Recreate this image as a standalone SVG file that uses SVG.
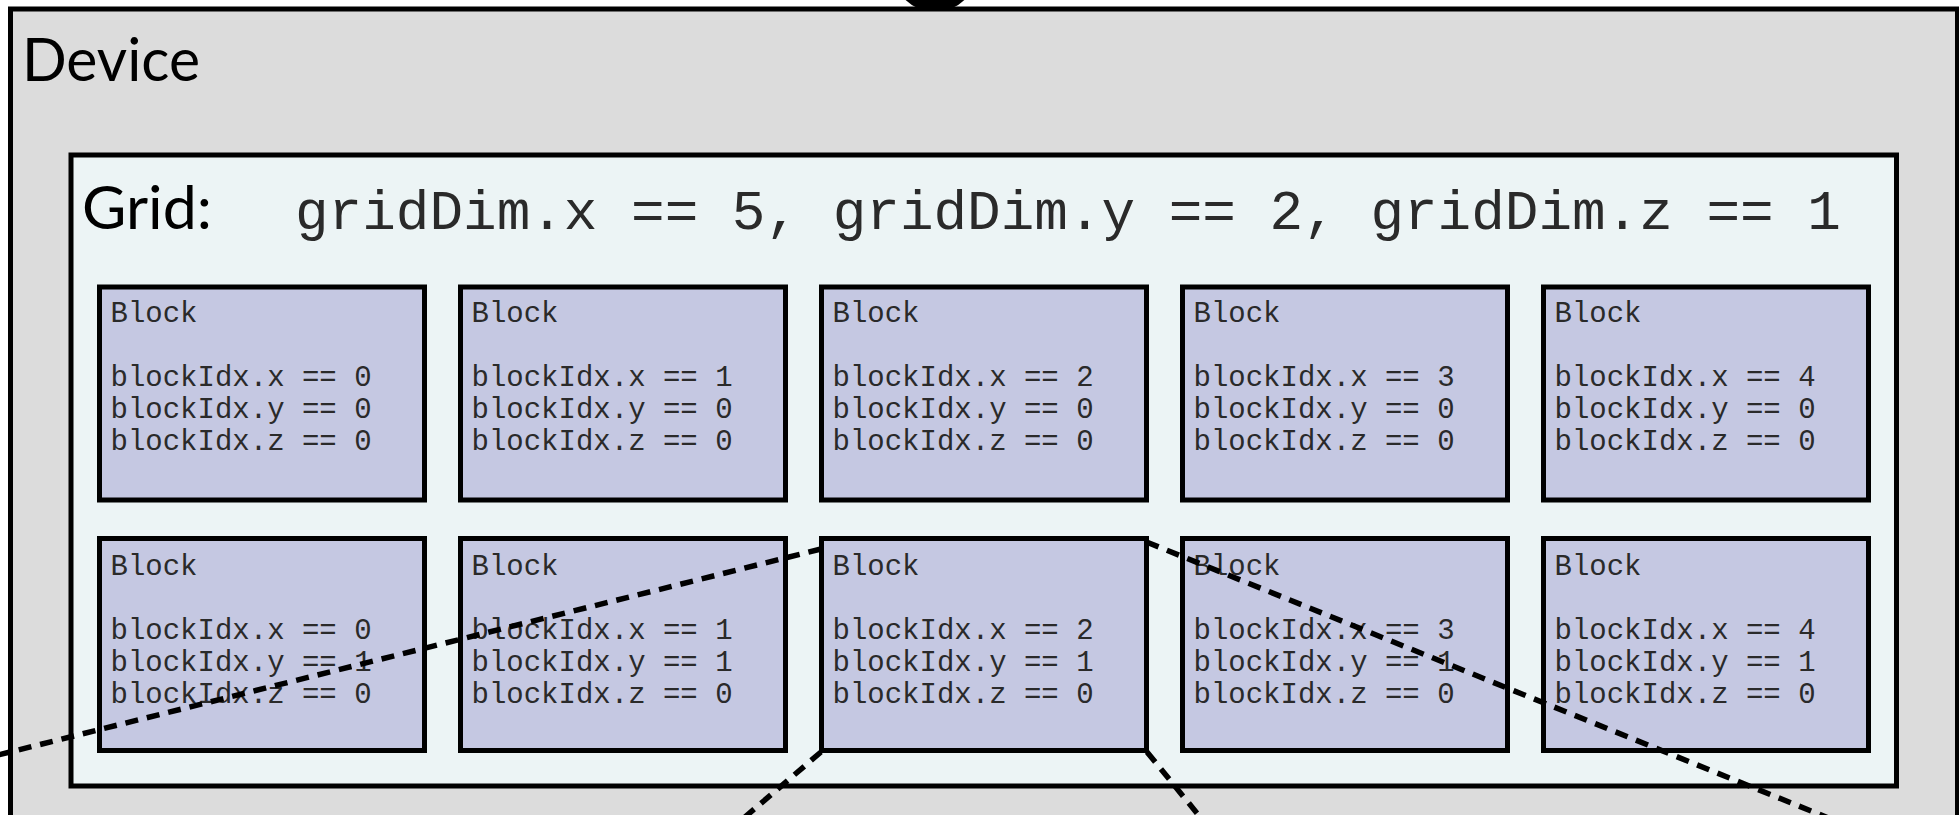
<svg xmlns="http://www.w3.org/2000/svg" width="1959" height="815" viewBox="0 0 1959 815">
<style>
.dev{fill:#dcdcdc;stroke:#000;stroke-width:5}
.grid{fill:#ecf4f5;stroke:#000;stroke-width:5}
.blk{fill:#c5c8e2;stroke:#000;stroke-width:5}
.title{font-family:Lato,"Open Sans",sans-serif;font-size:60px;fill:#000}
.dim{font-family:"Liberation Mono","Courier New",monospace;font-size:56px;fill:#2a2a2a}
.bt{font-family:"Liberation Mono","Courier New",monospace;font-size:29px;fill:#2a2a2a}
.dash{fill:none;stroke:#000;stroke-width:5.5;stroke-dasharray:13 9}
</style>
<rect width="1959" height="815" fill="#fff"/>
<circle cx="935" cy="-30" r="42" fill="#000"/>
<g id="device">
<rect class="dev" x="10.5" y="9" width="1947" height="900"/>
<text class="title" x="22" y="81" textLength="178" lengthAdjust="spacingAndGlyphs">Device</text>
</g>
<g id="grid">
<rect class="grid" x="71" y="155" width="1825.5" height="631"/>
<text class="title" x="82" y="229" textLength="130" lengthAdjust="spacingAndGlyphs">Grid:</text>
<text class="dim" x="295" y="229">gridDim.x == 5, gridDim.y == 2, gridDim.z == 1</text>
</g>
<g id="block-0-0"><rect class="blk" x="99.5" y="287" width="325" height="213"/>
<text class="bt"><tspan x="110.5" y="322">Block</tspan><tspan x="110.5" y="386">blockIdx.x == 0</tspan><tspan x="110.5" y="418">blockIdx.y == 0</tspan><tspan x="110.5" y="450">blockIdx.z == 0</tspan></text></g>
<g id="block-1-0"><rect class="blk" x="460.5" y="287" width="325" height="213"/>
<text class="bt"><tspan x="471.5" y="322">Block</tspan><tspan x="471.5" y="386">blockIdx.x == 1</tspan><tspan x="471.5" y="418">blockIdx.y == 0</tspan><tspan x="471.5" y="450">blockIdx.z == 0</tspan></text></g>
<g id="block-2-0"><rect class="blk" x="821.5" y="287" width="325" height="213"/>
<text class="bt"><tspan x="832.5" y="322">Block</tspan><tspan x="832.5" y="386">blockIdx.x == 2</tspan><tspan x="832.5" y="418">blockIdx.y == 0</tspan><tspan x="832.5" y="450">blockIdx.z == 0</tspan></text></g>
<g id="block-3-0"><rect class="blk" x="1182.5" y="287" width="325" height="213"/>
<text class="bt"><tspan x="1193.5" y="322">Block</tspan><tspan x="1193.5" y="386">blockIdx.x == 3</tspan><tspan x="1193.5" y="418">blockIdx.y == 0</tspan><tspan x="1193.5" y="450">blockIdx.z == 0</tspan></text></g>
<g id="block-4-0"><rect class="blk" x="1543.5" y="287" width="325" height="213"/>
<text class="bt"><tspan x="1554.5" y="322">Block</tspan><tspan x="1554.5" y="386">blockIdx.x == 4</tspan><tspan x="1554.5" y="418">blockIdx.y == 0</tspan><tspan x="1554.5" y="450">blockIdx.z == 0</tspan></text></g>
<g id="block-0-1"><rect class="blk" x="99.5" y="538.5" width="325" height="212"/>
<text class="bt"><tspan x="110.5" y="575">Block</tspan><tspan x="110.5" y="639">blockIdx.x == 0</tspan><tspan x="110.5" y="671">blockIdx.y == 1</tspan><tspan x="110.5" y="703">blockIdx.z == 0</tspan></text></g>
<g id="block-1-1"><rect class="blk" x="460.5" y="538.5" width="325" height="212"/>
<text class="bt"><tspan x="471.5" y="575">Block</tspan><tspan x="471.5" y="639">blockIdx.x == 1</tspan><tspan x="471.5" y="671">blockIdx.y == 1</tspan><tspan x="471.5" y="703">blockIdx.z == 0</tspan></text></g>
<g id="block-2-1"><rect class="blk" x="821.5" y="538.5" width="325" height="212"/>
<text class="bt"><tspan x="832.5" y="575">Block</tspan><tspan x="832.5" y="639">blockIdx.x == 2</tspan><tspan x="832.5" y="671">blockIdx.y == 1</tspan><tspan x="832.5" y="703">blockIdx.z == 0</tspan></text></g>
<g id="block-3-1"><rect class="blk" x="1182.5" y="538.5" width="325" height="212"/>
<text class="bt"><tspan x="1193.5" y="575">Block</tspan><tspan x="1193.5" y="639">blockIdx.x == 3</tspan><tspan x="1193.5" y="671">blockIdx.y == 1</tspan><tspan x="1193.5" y="703">blockIdx.z == 0</tspan></text></g>
<g id="block-4-1"><rect class="blk" x="1543.5" y="538.5" width="325" height="212"/>
<text class="bt"><tspan x="1554.5" y="575">Block</tspan><tspan x="1554.5" y="639">blockIdx.x == 4</tspan><tspan x="1554.5" y="671">blockIdx.y == 1</tspan><tspan x="1554.5" y="703">blockIdx.z == 0</tspan></text></g>
<g id="connectors">
<line class="dash" x1="821" y1="549" x2="-10" y2="757"/>
<line class="dash" x1="1146.5" y1="542" x2="1900" y2="847"/>
<line class="dash" x1="821" y1="752" x2="738" y2="823"/>
<line class="dash" x1="1147" y1="752" x2="1205" y2="823"/>
</g>
</svg>
